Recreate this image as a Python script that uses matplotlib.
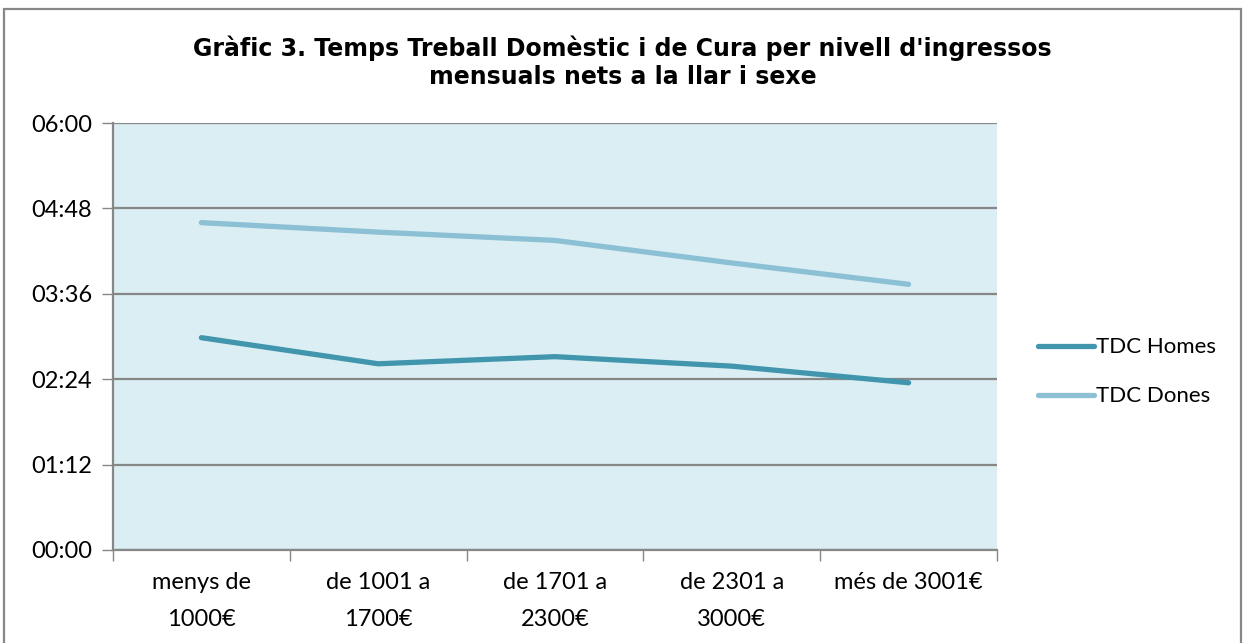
import matplotlib

matplotlib.use("Agg")

import matplotlib.pyplot as plt
from matplotlib.patches import Rectangle
from matplotlib.ticker import FuncFormatter, MultipleLocator

categories = ["menys de\n1000€", "de 1001 a\n1700€", "de 1701 a\n2300€", "de 2301 a\n3000€", "més de 3001€"]
homes_hm = ["2:59", "2:37", "2:43", "2:35", "2:21"]
dones_hm = ["4:36", "4:28", "4:21", "4:02", "3:44"]


def to_hours(hm):
    h, m = hm.split(":")
    return int(h) + int(m) / 60


homes = [to_hours(v) for v in homes_hm]
dones = [to_hours(v) for v in dones_hm]

HOMES = "#4196ae"
DONES = "#8cc0d4"
BG = "#dbeef3"
GRID = "#878787"
LABEL_FONT = ["Lato", "DejaVu Sans"]
FS = 17

fig = plt.figure(figsize=(12.45, 6.43), dpi=100)
ax = fig.add_axes([113 / 1245, 1 - 550 / 643, (997 - 113) / 1245, (550 - 123) / 643])
ax.set_facecolor(BG)

x = range(len(categories))
ax.plot(x, homes, color=HOMES, lw=3.8, solid_capstyle="round", solid_joinstyle="round",
        label="TDC Homes", zorder=3)
ax.plot(x, dones, color=DONES, lw=3.8, solid_capstyle="round", solid_joinstyle="round",
        label="TDC Dones", zorder=3)

ax.set_xlim(-0.5, len(categories) - 0.5)
ax.set_ylim(0, 6)
ax.yaxis.set_major_locator(MultipleLocator(1.2))
ax.yaxis.set_major_formatter(FuncFormatter(lambda v, _: f"{int(round(v * 60)) // 60:02d}:{int(round(v * 60)) % 60:02d}"))
ax.grid(axis="y", color=GRID, lw=1.6, zorder=1)
ax.set_axisbelow(True)

ax.set_xticks(list(x))
ax.set_xticklabels(categories, fontsize=FS, family=LABEL_FONT, linespacing=1.9)
ax.set_xticks([i - 0.5 for i in range(len(categories) + 1)], minor=True)
ax.tick_params(axis="x", which="major", length=0, pad=16)
ax.tick_params(axis="x", which="minor", length=8, width=1, color=GRID, direction="out")
ax.tick_params(axis="y", length=8, width=1, color=GRID, labelsize=FS, pad=7)
for lab in ax.get_yticklabels():
    lab.set_family(LABEL_FONT)

for s in ["top", "right"]:
    ax.spines[s].set_visible(False)
for s in ["left", "bottom"]:
    ax.spines[s].set_color(GRID)
    ax.spines[s].set_linewidth(1.6)

leg = ax.legend(loc="center left", bbox_to_anchor=(1.024, 0.417), frameon=False,
                handlelength=2.5, handletextpad=0.1, labelspacing=1.3,
                prop={"family": LABEL_FONT, "size": 16})

fig.text(0.5, 0.945, "Gràfic 3. Temps Treball Domèstic i de Cura per nivell d'ingressos\nmensuals nets a la llar i sexe",
         ha="center", va="top", fontsize=17, fontweight="bold", family="DejaVu Sans", linespacing=1.22)

fig.patches.append(Rectangle((4 / 1245, -0.05), (1241 - 4) / 1245, 1.05 - 9 / 643,
                             transform=fig.transFigure, fill=False, edgecolor=GRID, lw=1.6))

fig.savefig("out.png")
